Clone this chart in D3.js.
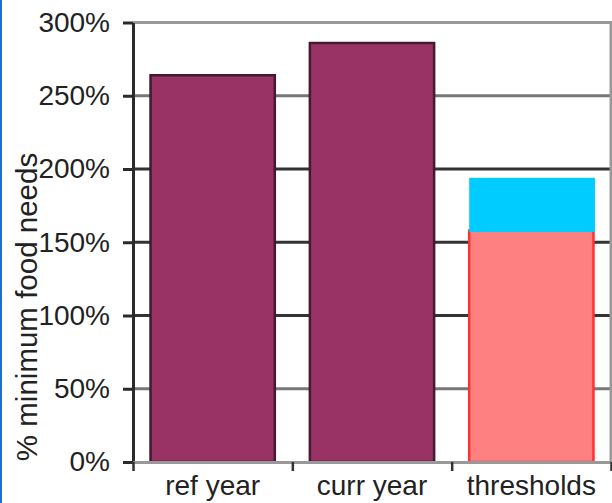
<!DOCTYPE html>
<html lang="en">
<head>
    <meta charset="UTF-8">
    <title>Food needs</title>
    <script src="https://cdn.jsdelivr.net/npm/d3@7"></script>
    <style type="text/css">
        body { margin: 0; background: white; }
        .axis text {
            font-family: "Liberation Sans", Arial, sans-serif;
            font-size: 28px;
            fill: #222;
        }
    </style>
</head>
<body>
    <script>
        // values (fractions, 1 = 100%)
        const categories = ["ref year", "curr year", "thresholds"];
        const baseValues = [2.64, 2.86, 1.58];
        const topValues = [0, 0, 0.36];   // cyan part stacked on the thresholds bar
        const yTicks = [0, 0.5, 1, 1.5, 2, 2.5, 3];
        const yTitle = "% minimum food needs";

        let w = 612;
        let h = 503;
        let plotLeft = 133, plotRight = 611, plotTop = 22.5, plotBottom = 462;

        let svg = d3.select("body")
                    .append("svg")
                    .attr("width", w)
                    .attr("height", h);

        svg.append("rect")
            .attr("width", w)
            .attr("height", h)
            .attr("fill", "white");

        // blue edge on the left of the picture
        svg.append("line")
            .attr("x1", 1).attr("x2", 1)
            .attr("y1", 0).attr("y2", h)
            .attr("stroke", "#1f6fd1")
            .attr("stroke-width", 2);

        let xScale = d3.scaleBand()
                    .domain(categories)
                    .range([plotLeft, plotRight])
                    .paddingInner(0.22)
                    .paddingOuter(0.11);
        let xEdge = d3.scaleLinear()
                    .domain([0, categories.length])
                    .range([plotLeft, plotRight]);
        let yScale = d3.scaleLinear()
                    .domain([0, 3])
                    .range([plotBottom, plotTop]);
        let cScale = d3.scaleOrdinal(categories, ["#993366", "#993366", "#ff8080"]);

        // gridlines
        svg.append("g")
            .selectAll("line")
            .data(yTicks.filter(d => d > 0 && d < 3))
            .enter()
            .append("line")
            .attr("x1", plotLeft)
            .attr("x2", plotRight)
            .attr("y1", d => yScale(d))
            .attr("y2", d => yScale(d))
            .attr("stroke", (d, i) => i % 4 === 0 ? "#777" : "#333")
            .attr("stroke-width", 3);

        // plot frame (top and right)
        svg.append("path")
            .attr("d", "M" + plotLeft + "," + yScale(3) + "H" + plotRight + "V" + plotBottom)
            .attr("fill", "none")
            .attr("stroke", "#999")
            .attr("stroke-width", 3);

        // main bars
        svg.append("g")
            .selectAll("rect")
            .data(categories)
            .enter()
            .append("rect")
            .attr("x", d => xScale(d))
            .attr("y", (d, i) => yScale(baseValues[i]))
            .attr("width", xScale.bandwidth())
            .attr("height", (d, i) => yScale(0) - yScale(baseValues[i]))
            .attr("fill", d => cScale(d))
            .attr("stroke", (d, i) => i < 2 ? "#45192f" : "#ff3030")
            .attr("stroke-width", 2.5);

        // stacked part
        svg.append("g")
            .selectAll("rect")
            .data(categories.filter((d, i) => topValues[i] > 0))
            .enter()
            .append("rect")
            .attr("x", d => xScale(d))
            .attr("y", d => {
                let i = categories.indexOf(d);
                return yScale(baseValues[i] + topValues[i]);
            })
            .attr("width", xScale.bandwidth() + 1.5)
            .attr("height", d => {
                let i = categories.indexOf(d);
                return yScale(baseValues[i]) - yScale(baseValues[i] + topValues[i]) + 1.5;
            })
            .attr("fill", "#00ccff");

        // y axis
        let yAxis = d3.axisLeft(yScale)
                    .tickValues(yTicks)
                    .tickFormat(d3.format(".0%"))
                    .tickSize(10)
                    .tickPadding(13)
                    .tickSizeOuter(0);
        let yg = svg.append("g")
            .attr("class", "axis")
            .attr("transform", "translate(" + plotLeft + ", 0)")
            .call(yAxis);
        yg.selectAll("line, path").attr("stroke", "#2a2a2a").attr("stroke-width", 3);

        // x axis: baseline + ticks between categories
        let edgeAxis = d3.axisBottom(xEdge)
                    .ticks(categories.length)
                    .tickFormat("")
                    .tickSize(9)
                    .tickSizeOuter(0);
        let eg = svg.append("g")
            .attr("class", "axis")
            .attr("transform", "translate(0, " + plotBottom + ")")
            .call(edgeAxis);
        eg.select("path").attr("stroke", "#999").attr("stroke-width", 3);
        eg.selectAll("line").attr("stroke", "#333").attr("stroke-width", 2.5);

        // category labels
        let xAxis = d3.axisBottom(xScale).tickSize(0).tickPadding(13);
        let xg = svg.append("g")
            .attr("class", "axis")
            .attr("transform", "translate(0, " + plotBottom + ")")
            .call(xAxis);
        xg.select(".domain").remove();

        // y title
        svg.append("text")
            .attr("transform", "translate(37, 307) rotate(-90)")
            .attr("text-anchor", "middle")
            .style("font-family", "'Liberation Sans', Arial, sans-serif")
            .style("font-size", "29.5px")
            .attr("fill", "#222")
            .text(yTitle);
    </script>
</body>
</html>
